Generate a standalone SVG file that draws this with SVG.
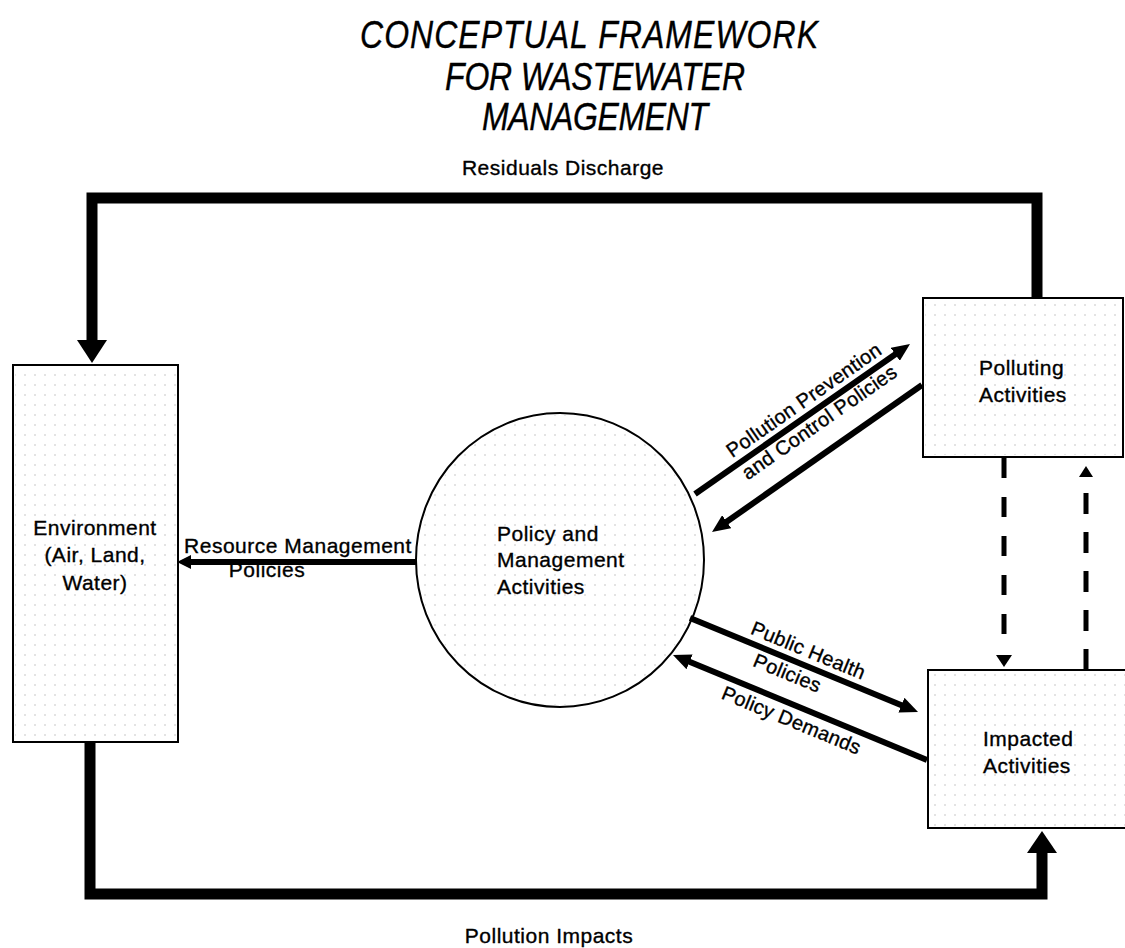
<svg xmlns="http://www.w3.org/2000/svg" width="1125" height="948" viewBox="0 0 1125 948">
<style>
.t{font-family:"Liberation Sans",Arial,sans-serif;font-size:21px;letter-spacing:0.5px;fill:#000;stroke:#000;stroke-width:0.35}
.r{font-family:"Liberation Sans",Arial,sans-serif;font-size:20px;letter-spacing:0.3px;fill:#000;stroke:#000;stroke-width:0.35}
.title{font-family:"Liberation Sans",Arial,sans-serif;font-size:32px;font-style:italic;fill:#000;stroke:#000;stroke-width:0.3}
.box{fill:#fff;stroke:#000;stroke-width:2}
.dots{fill:url(#dots);stroke:none}
.thick{fill:none;stroke:#000;stroke-width:11;stroke-linejoin:miter}
.med{fill:none;stroke:#000;stroke-width:6}
.dash{fill:none;stroke:#000;stroke-width:5}
</style>
<defs>
<pattern id="dots" width="10" height="10" patternUnits="userSpaceOnUse">
<circle cx="5" cy="5" r="0.7" fill="#b0b0b0"/>
</pattern>
<marker id="arr" markerUnits="userSpaceOnUse" markerWidth="18" markerHeight="16" viewBox="0 0 18 16" refX="8" refY="8" orient="auto">
<path d="M0,0 L18,8 L0,16 z" fill="#000"/>
</marker>
<marker id="arrs" markerUnits="userSpaceOnUse" markerWidth="14" markerHeight="14" viewBox="0 0 14 14" refX="4" refY="7" orient="auto">
<path d="M0,0 L14,7 L0,14 z" fill="#000"/>
</marker>
</defs>
<rect width="1125" height="948" fill="#fff"/>

<g id="title">
<text class="title" x="589" y="48" text-anchor="middle" textLength="458" lengthAdjust="spacing" transform="translate(0,48) scale(1,1.22) translate(0,-48)">CONCEPTUAL FRAMEWORK</text>
<text class="title" x="595" y="90" text-anchor="middle" textLength="300" lengthAdjust="spacing" transform="translate(0,90) scale(1,1.22) translate(0,-90)">FOR WASTEWATER</text>
<text class="title" x="595" y="130" text-anchor="middle" textLength="226" lengthAdjust="spacing" transform="translate(0,130) scale(1,1.22) translate(0,-130)">MANAGEMENT</text>
</g>

<g id="environment">
<rect class="box" x="13" y="365" width="165" height="377"/>
<rect class="dots" x="15" y="367" width="161" height="373"/>
<text class="t" x="95" y="535" text-anchor="middle">Environment</text>
<text class="t" x="95" y="562" text-anchor="middle">(Air, Land,</text>
<text class="t" x="95" y="590" text-anchor="middle">Water)</text>
</g>

<g id="policy">
<ellipse class="box" cx="560" cy="560" rx="144" ry="147"/>
<ellipse class="dots" cx="560" cy="560" rx="142" ry="145"/>
<text class="t" x="497" y="541">Policy and</text>
<text class="t" x="497" y="567">Management</text>
<text class="t" x="497" y="594">Activities</text>
</g>

<g id="polluting">
<rect class="box" x="923" y="298" width="200" height="159"/>
<rect class="dots" x="925" y="300" width="196" height="155"/>
<text class="t" x="979" y="375">Polluting</text>
<text class="t" x="979" y="402">Activities</text>
</g>

<g id="impacted">
<rect class="box" x="928" y="670" width="210" height="158"/>
<rect class="dots" x="930" y="672" width="200" height="154"/>
<text class="t" x="983" y="746">Impacted</text>
<text class="t" x="983" y="773">Activities</text>
</g>

<g id="connectors">
<polyline class="thick" points="1037,298 1037,198 92,198 92,342"/>
<polygon points="77,340 107,340 92,363" fill="#000"/>
<polyline class="thick" points="90,742 90,894 1042,894 1042,851"/>
<polygon points="1027,853 1057,853 1042,831" fill="#000"/>

<line class="med" x1="416" y1="562" x2="187" y2="562" marker-end="url(#arrs)"/>
<line class="med" x1="695" y1="494" x2="901.8" y2="349.7" marker-end="url(#arr)"/>
<line class="med" x1="922" y1="385" x2="720.2" y2="526.3" marker-end="url(#arr)"/>
<line class="med" x1="690" y1="618" x2="908.8" y2="708.2" marker-end="url(#arr)"/>
<line class="med" x1="927" y1="760" x2="682.2" y2="658.8" marker-end="url(#arr)"/>

<line class="dash" x1="1004" y1="458" x2="1004" y2="640" stroke-dasharray="20 19"/>
<polygon points="996,655 1012,655 1004,667" fill="#000"/>
<line class="dash" x1="1086" y1="670" x2="1086" y2="492" stroke-dasharray="21 18"/>
<polygon points="1079,477 1093,477 1086,466" fill="#000"/>
</g>

<g id="labels">
<text class="t" x="563" y="175" text-anchor="middle">Residuals Discharge</text>
<text class="t" x="549" y="943" text-anchor="middle">Pollution Impacts</text>
<text class="t" x="298" y="553" text-anchor="middle">Resource Management</text>
<text class="t" x="267" y="577" text-anchor="middle">Policies</text>
<text class="r" x="807.7" y="405.6" text-anchor="middle" transform="rotate(-34.9 807.7 405.6)">Pollution Prevention</text>
<text class="r" x="823.2" y="427.8" text-anchor="middle" transform="rotate(-34.9 823.2 427.8)">and Control Policies</text>
<text class="r" x="805.7" y="656.7" text-anchor="middle" transform="rotate(22.4 805.7 656.7)">Public Health</text>
<text class="r" x="784.8" y="679.3" text-anchor="middle" transform="rotate(22.4 784.8 679.3)">Policies</text>
<text class="r" x="788.9" y="726.5" text-anchor="middle" transform="rotate(22.4 788.9 726.5)">Policy Demands</text>
</g>
</svg>
